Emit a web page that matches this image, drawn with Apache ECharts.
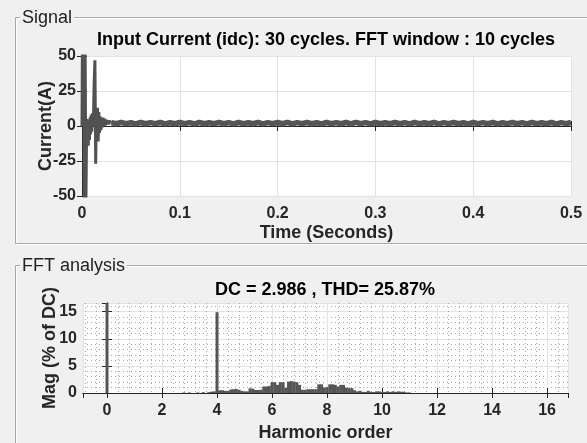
<!DOCTYPE html>
<html>
<head>
<meta charset="utf-8">
<script src="https://cdn.jsdelivr.net/npm/echarts@6/dist/echarts.min.js"></script>
<style>
html,body{margin:0;padding:0;background:#f0f0f0;}
#c{width:587px;height:443px;}
</style>
</head>
<body>
<div id="c"></div>
<script>
// ---- Signal (time domain) ----
const transientT = [0,0.0004,0.0008,0.0012,0.0016,0.002,0.0024,0.0028,0.0032,0.0036,0.004,0.0044,0.0048,0.0052,0.0058,0.0064,0.007,0.0076,0.0082,0.0088,0.0094,0.01,0.0106,0.0112,0.0118,0.0124,0.0132,0.014,0.0146,0.0152,0.0158,0.0165,0.0172,0.0179,0.0186,0.0193,0.02,0.0208,0.0216,0.0224,0.0232,0.024,0.0248,0.0256,0.0264,0.0272,0.028,0.03];
const transientI = [0,55,48,55,20,55,-55,-55,55,55,-55,-55,5,-12,4,-14,3,-10,6,-6,8,-4,9,0,8,30,47,-27,8,-8,13,-11,10,-5,7,-3,6,-1,6,0,5,0.5,4.5,1,4,1.2,3.5,2.4];
const steadyStart = 0.03;
const steadyStep = 0.005;
const steadyI = [2.4,1.6,2.5,1.7,2.3,1.5,2.5,1.6,2.4,1.7,
2.5,1.5,2.3,1.6,2.5,1.7,2.4,1.5,2.5,1.6,
2.3,1.7,2.5,1.6,2.4,1.5,2.5,1.7,2.3,1.6,
2.5,1.5,2.4,1.7,2.5,1.6,2.6,1.5,2.4,1.7,
2.5,1.6,2.3,1.5,2.5,1.7,2.4,1.6,2.5,1.5,
2.6,1.7,2.4,1.5,2.5,1.6,2.3,1.7,2.5,1.6,
2.4,1.5,2.5,1.7,2.3,1.6,2.5,1.5,2.4,1.7,
2.5,1.6,2.3,1.5,2.5,1.7,2.4,1.6,2.5,1.5,
2.3,1.7,2.5,1.6,2.4,1.5,2.5,1.7,2.3,1.6,
2.5,1.5,2.4,1.7,2.5];

// ---- FFT analysis ----
const harmOrder = [0,2.8,3.0,3.3,3.5,3.7,3.8,3.9,4.0,
4.1,4.2,4.3,4.4,4.5,4.6,4.7,4.8,4.9,5.0,
5.1,5.2,5.3,5.4,5.5,5.6,5.7,5.8,5.9,6.0,
6.1,6.2,6.3,6.4,6.5,6.6,6.7,6.8,6.9,7.0,
7.1,7.2,7.3,7.4,7.5,7.6,7.7,7.8,7.9,8.0,
8.1,8.2,8.3,8.4,8.5,8.6,8.7,8.8,8.9,9.0,
9.1,9.2,9.3,9.4,9.5,9.6,9.7,9.8,9.9,10.0,
10.1,10.2,10.3,10.4,10.5,10.6,10.7,10.8,10.9,11.0];
const harmMag = [100,0.1,0.1,0.1,0.15,0.15,0.25,0.3,14.9,
0.5,0.5,0.4,0.4,0.65,0.7,0.75,0.6,0.4,0.3,
0.3,0.85,0.8,0.55,0.55,0.6,1.2,1.2,1.3,2.0,
2.0,1.5,2.0,2.0,1.0,2.1,2.2,2.1,2.0,1.5,
0.6,0.6,0.7,0.7,0.7,0.7,1.6,1.6,1.0,1.1,
1.6,1.6,1.5,1.2,1.5,1.5,1.0,0.9,0.9,0.5,
0.3,0.4,0.2,0.2,0.4,0.2,0.2,0.3,0.3,0.2,
0.2,0.3,0.2,0.3,0.2,0.3,0.25,0.2,0.1,0.1];

const signalTitle = 'Input Current (idc): 30 cycles. FFT window : 10 cycles';
const fftTitle = 'DC = 2.986 , THD= 25.87%';

const transientData = transientT.map((t, i) => [t, transientI[i]]);
const steadyData = steadyI.map((v, i) => [+(steadyStart + i * steadyStep).toFixed(4), v]);
const fftData = harmOrder.map((h, i) => [h, harmMag[i]]);

const FONT = '"Liberation Sans", Arial, sans-serif';
const AX = '#262626';
const lbl = {color: AX, fontFamily: FONT, fontWeight: 'bold', fontSize: 16};
const nameStyle = {color: AX, fontFamily: FONT, fontWeight: 'bold', fontSize: 18};
const tick = {show: true, inside: true, length: 5, lineStyle: {color: AX}};
const line = {show: true, lineStyle: {color: AX, width: 1}};
const grid = {show: true, lineStyle: {color: '#e3e3e3', width: 1}};
const minorDots = {show: true, lineStyle: {color: '#a8a8a8', type: [1, 3], width: 1}};
const intLabel = v => (Math.abs(v - Math.round(v)) < 1e-6 ? String(Math.round(v)) : '');

const chart = echarts.init(document.getElementById('c'), null, {renderer: 'canvas'});
chart.setOption({
  animation: false,
  backgroundColor: '#f0f0f0',
  grid: [
    {left: 82, top: 56, width: 489, height: 140, show: true, backgroundColor: '#ffffff', borderWidth: 0},
    {left: 83, top: 303, width: 485, height: 93, show: true, backgroundColor: '#ffffff', borderWidth: 0}
  ],
  xAxis: [
    {type: 'value', gridIndex: 0, min: 0, max: 0.5, interval: 0.1, position: 'bottom',
     axisLine: line, axisTick: tick, splitLine: grid, axisLabel: Object.assign({margin: 10}, lbl),
     name: 'Time (Seconds)', nameLocation: 'middle', nameGap: 28, nameMoveOverlap: false, nameTextStyle: nameStyle},
    {type: 'value', gridIndex: 0, min: 0, max: 0.5, interval: 0.1, position: 'top',
     axisLine: line, axisTick: tick, splitLine: {show: false}, axisLabel: {show: false}},
    {type: 'value', gridIndex: 1, min: -0.873, max: 16.76, splitNumber: 9, position: 'bottom',
     axisLine: line, axisTick: tick, splitLine: grid,
     minorTick: {show: false, splitNumber: 5}, minorSplitLine: minorDots,
     axisLabel: Object.assign({margin: 10, showMinLabel: false, showMaxLabel: false, formatter: intLabel}, lbl),
     name: 'Harmonic order', nameLocation: 'middle', nameGap: 31, nameMoveOverlap: false, nameTextStyle: nameStyle},
    {type: 'value', gridIndex: 1, min: -0.873, max: 16.76, splitNumber: 9, position: 'top',
     axisLine: line, axisTick: tick, splitLine: {show: false}, axisLabel: {show: false}}
  ],
  yAxis: [
    {type: 'value', gridIndex: 0, min: -50, max: 50, interval: 25, position: 'left',
     axisLine: line, axisTick: tick, splitLine: grid, axisLabel: Object.assign({margin: 6}, lbl),
     name: 'Current(A)', nameLocation: 'middle', nameGap: 27, nameMoveOverlap: false, nameTextStyle: nameStyle},
    {type: 'value', gridIndex: 0, min: -50, max: 50, interval: 25, position: 'right',
     axisLine: line, axisTick: tick, splitLine: {show: false}, axisLabel: {show: false}},
    {type: 'value', gridIndex: 1, min: 0, max: 16.6, interval: 5, position: 'left',
     axisLine: line, axisTick: tick, splitLine: grid,
     minorTick: {show: false, splitNumber: 5}, minorSplitLine: minorDots,
     axisLabel: Object.assign({margin: 6, showMaxLabel: false, formatter: intLabel}, lbl),
     name: 'Mag (% of DC)', nameLocation: 'middle', nameGap: 24, nameMoveOverlap: false, nameTextStyle: nameStyle},
    {type: 'value', gridIndex: 1, min: 0, max: 16.6, interval: 5, position: 'right',
     axisLine: line, axisTick: tick, splitLine: {show: false}, axisLabel: {show: false}}
  ],
  series: [
    {type: 'line', xAxisIndex: 0, yAxisIndex: 0, data: transientData, showSymbol: false, clip: true,
     lineStyle: {color: '#525252', width: 3}, z: 3},
    {type: 'line', xAxisIndex: 0, yAxisIndex: 0, data: steadyData, showSymbol: false, clip: true,
     lineStyle: {color: '#555555', width: 5.5}, z: 3},
    {type: 'bar', xAxisIndex: 2, yAxisIndex: 2, data: fftData, barWidth: 3, clip: true,
     itemStyle: {color: '#555555'}, z: 3}
  ],
  graphic: [
    {type: 'rect', shape: {x: 15.5, y: 17.5, width: 620, height: 226}, style: {fill: 'none', stroke: '#a8a8a8', lineWidth: 1}, silent: true},
    {type: 'rect', shape: {x: 16.5, y: 18.5, width: 620, height: 226}, style: {fill: 'none', stroke: '#ffffff', lineWidth: 1}, silent: true, z: -1},
    {type: 'rect', shape: {x: 15.5, y: 265.5, width: 620, height: 300}, style: {fill: 'none', stroke: '#a8a8a8', lineWidth: 1}, silent: true},
    {type: 'rect', shape: {x: 16.5, y: 266.5, width: 620, height: 300}, style: {fill: 'none', stroke: '#ffffff', lineWidth: 1}, silent: true, z: -1},
    {type: 'text', x: 20, y: 18, z: 10, style: {text: 'Signal', font: '18px ' + FONT, fill: '#222', verticalAlign: 'middle', backgroundColor: '#f0f0f0', padding: [0, 2]}},
    {type: 'text', x: 20, y: 266, z: 10, style: {text: 'FFT analysis', font: '18px ' + FONT, fill: '#222', verticalAlign: 'middle', backgroundColor: '#f0f0f0', padding: [0, 2]}},
    {type: 'text', x: 326, y: 40, z: 10, style: {text: signalTitle, font: 'bold 18px ' + FONT, fill: '#000', align: 'center', verticalAlign: 'middle'}},
    {type: 'text', x: 325, y: 290, z: 10, style: {text: fftTitle, font: 'bold 18px ' + FONT, fill: '#000', align: 'center', verticalAlign: 'middle'}}
  ]
});
</script>
</body>
</html>
